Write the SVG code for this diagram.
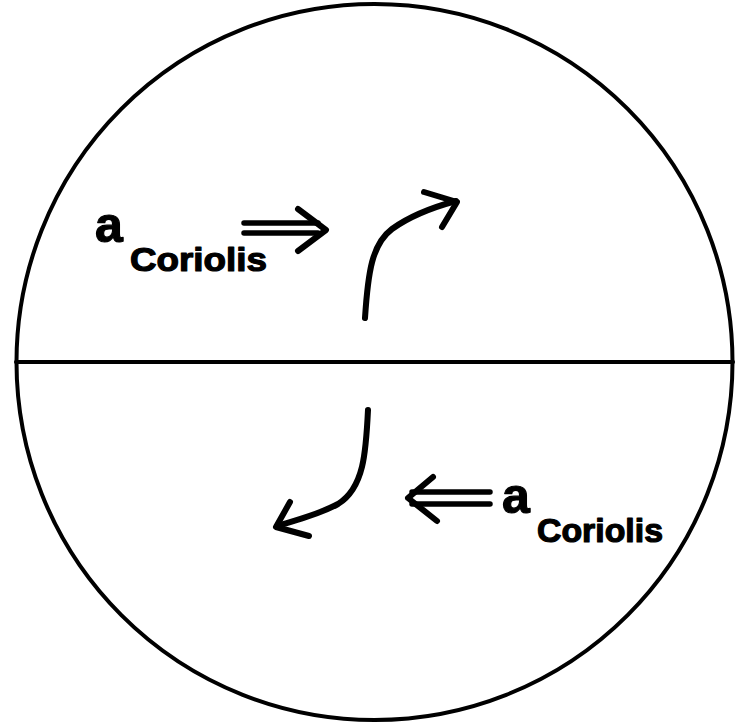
<svg xmlns="http://www.w3.org/2000/svg" width="737" height="725" viewBox="0 0 737 725">
<style>
.ln{fill:none;stroke:#000;stroke-linecap:round;stroke-linejoin:round}
.lbl{font-family:"Liberation Sans",Arial,sans-serif;font-weight:bold;fill:#000;stroke:#000;stroke-width:1.2;stroke-linejoin:round}
</style>
<rect width="737" height="725" fill="#fff"/>
<g id="globe">
<ellipse cx="374.5" cy="362" rx="358" ry="358" class="ln" stroke-width="4"/>
<line x1="16" y1="362" x2="733" y2="362" class="ln" stroke-width="4" stroke-linecap="butt"/>
</g>
<g id="connectors">
<path d="M365,318 C368,272 372,244 392,229 C410,216 430,208 456,201" class="ln" stroke-width="6"/>
<path d="M424,192 L457,202 L442,227" class="ln" stroke-width="6"/>
<path d="M368,410 C366,452 364,488 338,504 C318,515 296,520 277,526" class="ln" stroke-width="6"/>
<path d="M290,502 L276,527 L309,536" class="ln" stroke-width="6"/>
<path d="M244,223 L318,223 M244,233 L318,233" class="ln" stroke-width="5.5" stroke-linecap="butt"/>
<path d="M298,209 L326,230 L298,251" class="ln" stroke-width="6"/>
<path d="M412,492 L490,492 M412,504 L490,504" class="ln" stroke-width="5.5" stroke-linecap="butt"/>
<path d="M433,477 L408,498 L437,521" class="ln" stroke-width="6"/>
</g>
<g id="label-top">
<text x="95" y="242" class="lbl" font-size="50">a</text>
<text x="130" y="271" class="lbl" font-size="33" textLength="137" lengthAdjust="spacingAndGlyphs">Coriolis</text>
</g>
<g id="label-bottom">
<text x="502" y="513" class="lbl" font-size="50">a</text>
<text x="537" y="542" class="lbl" font-size="33" textLength="126" lengthAdjust="spacingAndGlyphs">Coriolis</text>
</g>
</svg>
